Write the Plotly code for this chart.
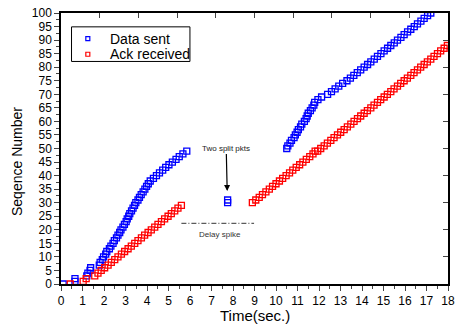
import plotly.graph_objects as go

# ---- data ----
sent_x = [0.10, 0.65, 0.65, 1.20, 1.25, 1.35, 1.38, 1.78, 1.82, 1.92, 1.98, 2.08, 2.13, 2.25, 2.32,
          2.42, 2.48, 2.58, 2.65, 2.73, 2.79, 2.88, 2.95, 3.03, 3.08, 3.15, 3.20, 3.28, 3.35, 3.42,
          3.48, 3.58, 3.65, 3.73, 3.82, 3.90, 3.98, 4.06, 4.15, 4.30, 4.44, 4.58, 4.73, 4.87, 5.02,
          5.18, 5.35, 5.50, 5.67, 5.85,
          None,
          7.75, 7.75,
          None,
          10.50, 10.55, 10.65, 10.72, 10.84, 10.90, 10.98, 11.04, 11.14, 11.20, 11.32, 11.40, 11.45,
          11.50, 11.60, 11.68, 11.76, 11.80, 11.95, 12.12, 12.40, 12.58, 12.75, 12.92, 13.10, 13.30,
          13.46, 13.62, 13.78, 13.94, 14.10, 14.26, 14.41, 14.57, 14.72, 14.88, 15.03, 15.19, 15.34,
          15.50, 15.65, 15.81, 15.96, 16.12, 16.27, 16.43, 16.58, 16.74, 16.89, 17.05, 17.20]
sent_y = list(range(0, 50)) + [None] + [30, 31] + [None] + list(range(50, 101))

ack_x = [0.43, 1.03, 1.17, 1.57, 1.72, 1.87, 2.03, 2.19, 2.34, 2.50, 2.65, 2.81, 2.96, 3.12, 3.27,
         3.43, 3.58, 3.74, 3.89, 4.05, 4.20, 4.36, 4.51, 4.67, 4.82, 4.98, 5.13, 5.29, 5.44, 5.60,
         None,
         8.90, 9.06, 9.22, 9.37, 9.53, 9.69, 9.84, 10.00, 10.16, 10.31, 10.47, 10.63, 10.78, 10.94,
         11.10, 11.25, 11.41, 11.57, 11.72, 11.82, 11.94, 12.08, 12.24, 12.39, 12.55, 12.70, 12.86,
         13.01, 13.17, 13.32, 13.48, 13.63, 13.79, 13.94, 14.10, 14.25, 14.41, 14.56, 14.72, 14.87,
         15.03, 15.18, 15.34, 15.49, 15.65, 15.80, 15.96, 16.11, 16.27, 16.42, 16.58, 16.73, 16.89,
         17.04, 17.20, 17.35, 17.51, 17.66, 17.82, 17.97]
ack_y = list(range(0, 30)) + [None] + list(range(30, 50)) + [49] + list(range(50, 89))

series_names = ["Data sent", "Ack received"]
x_ticks = list(range(0, 19))
y_ticks = list(range(0, 101, 5))

split_x, split_y = 7.73, 34.3          # arrow tip ("Two split pkts")
spike_x0, spike_x1, spike_y = 5.6, 8.98, 22.4   # "Delay spike" line
spike_label_x = 7.40

BLUE = "#0000FF"
RED = "#FF0000"
FONT = "Arial, Liberation Sans, sans-serif"

fig = go.Figure()
fig.add_trace(go.Scatter(x=sent_x, y=sent_y, mode="markers", name=series_names[0], showlegend=False,
                         marker=dict(symbol="square-open", size=6, color=BLUE, line=dict(width=1.3, color=BLUE))))
fig.add_trace(go.Scatter(x=ack_x, y=ack_y, mode="markers", name=series_names[1], showlegend=False,
                         marker=dict(symbol="square-open", size=6, color=RED, line=dict(width=1.3, color=RED))))
# carrier for the top/right tick axes
fig.add_trace(go.Scatter(x=[None], y=[None], xaxis="x2", yaxis="y2", showlegend=False, hoverinfo="skip"))

fig.update_layout(
    width=461, height=327,
    margin=dict(l=61, r=6, t=10, b=43),
    paper_bgcolor="white", plot_bgcolor="white",
    font=dict(family=FONT, size=12, color="black"),
    xaxis=dict(range=[0, 18], tickvals=x_ticks, ticks="outside", ticklen=5, tickwidth=1,
               showline=True, linecolor="black", linewidth=1.5, showgrid=False, zeroline=False,
               ticklabeloverflow="allow",
               tickfont=dict(size=12), minor=dict(dtick=0.5, ticks="outside", ticklen=3, tickwidth=1)),
    yaxis=dict(range=[0, 100], tickvals=y_ticks, ticks="outside", ticklen=5, tickwidth=1,
               showline=True, linecolor="black", linewidth=1.5, showgrid=False, zeroline=False,
               ticklabeloverflow="allow",
               tickfont=dict(size=12), minor=dict(dtick=2.5, ticks="outside", ticklen=3, tickwidth=1)),
    xaxis2=dict(overlaying="x", side="top", range=[0, 10], dtick=1, ticks="inside", ticklen=5,
                showticklabels=False, showline=True, linecolor="black", linewidth=1.5,
                showgrid=False, zeroline=False),
    yaxis2=dict(overlaying="y", side="right", range=[0, 100], dtick=10, ticks="inside", ticklen=5,
                showticklabels=False, showline=True, linecolor="black", linewidth=1.5,
                showgrid=False, zeroline=False),
    showlegend=False,
)

# ---- legend box (drawn to match the compact original) ----
leg_x0, leg_x1, leg_y0, leg_y1 = 0.0272, 0.3332, 0.8212, 0.9489
leg_sym_x, leg_txt_x = 0.0693, 0.1218
leg_rows_y = [0.9051, 0.8478]
fig.add_shape(type="rect", xref="paper", yref="paper", x0=leg_x0, x1=leg_x1, y0=leg_y0, y1=leg_y1,
              line=dict(color="black", width=1), fillcolor="white", layer="above")
for name, col, yy in zip(series_names, [BLUE, RED], leg_rows_y):
    fig.add_shape(type="rect", xref="paper", yref="paper", xsizemode="pixel", ysizemode="pixel",
                  xanchor=leg_sym_x, yanchor=yy, x0=-2, x1=2, y0=-2, y1=2,
                  line=dict(color=col, width=1.2), fillcolor="white", layer="above")
    fig.add_annotation(text=name, xref="paper", yref="paper", x=leg_txt_x, y=yy, showarrow=False,
                       xanchor="left", yanchor="middle", font=dict(size=14, family=FONT, color="black"))

fig.add_annotation(text="Time(sec.)", xref="paper", yref="paper", x=0.5, y=-0.115,
                   showarrow=False, font=dict(size=15, family=FONT), xanchor="center", yanchor="middle")
fig.add_annotation(text="Seqence Number", xref="paper", yref="paper", x=-0.112, y=0.4526,
                   showarrow=False, textangle=-90, font=dict(size=14, family=FONT),
                   xanchor="center", yanchor="middle")
fig.add_annotation(text="Two split pkts", x=split_x, y=split_y, xref="x", yref="y",
                   showarrow=True, arrowhead=2, arrowsize=1, arrowwidth=1.2, arrowcolor="black",
                   ax=-1, ay=-43, font=dict(size=8, family=FONT, color="#222"))
fig.add_annotation(text="Delay spike", x=spike_label_x, y=spike_y, xref="x", yref="y",
                   showarrow=False, yshift=-11, font=dict(size=8, family=FONT, color="#333"))
fig.add_shape(type="line", xref="x", yref="y", x0=spike_x0, x1=spike_x1, y0=spike_y, y1=spike_y,
              line=dict(color="#333", width=1, dash="5px,2px,1px,2px"))

fig.write_html("out.html",
               config={"displayModeBar": False},
               post_script="document.body.style.margin='0';document.body.style.overflow='hidden';")
